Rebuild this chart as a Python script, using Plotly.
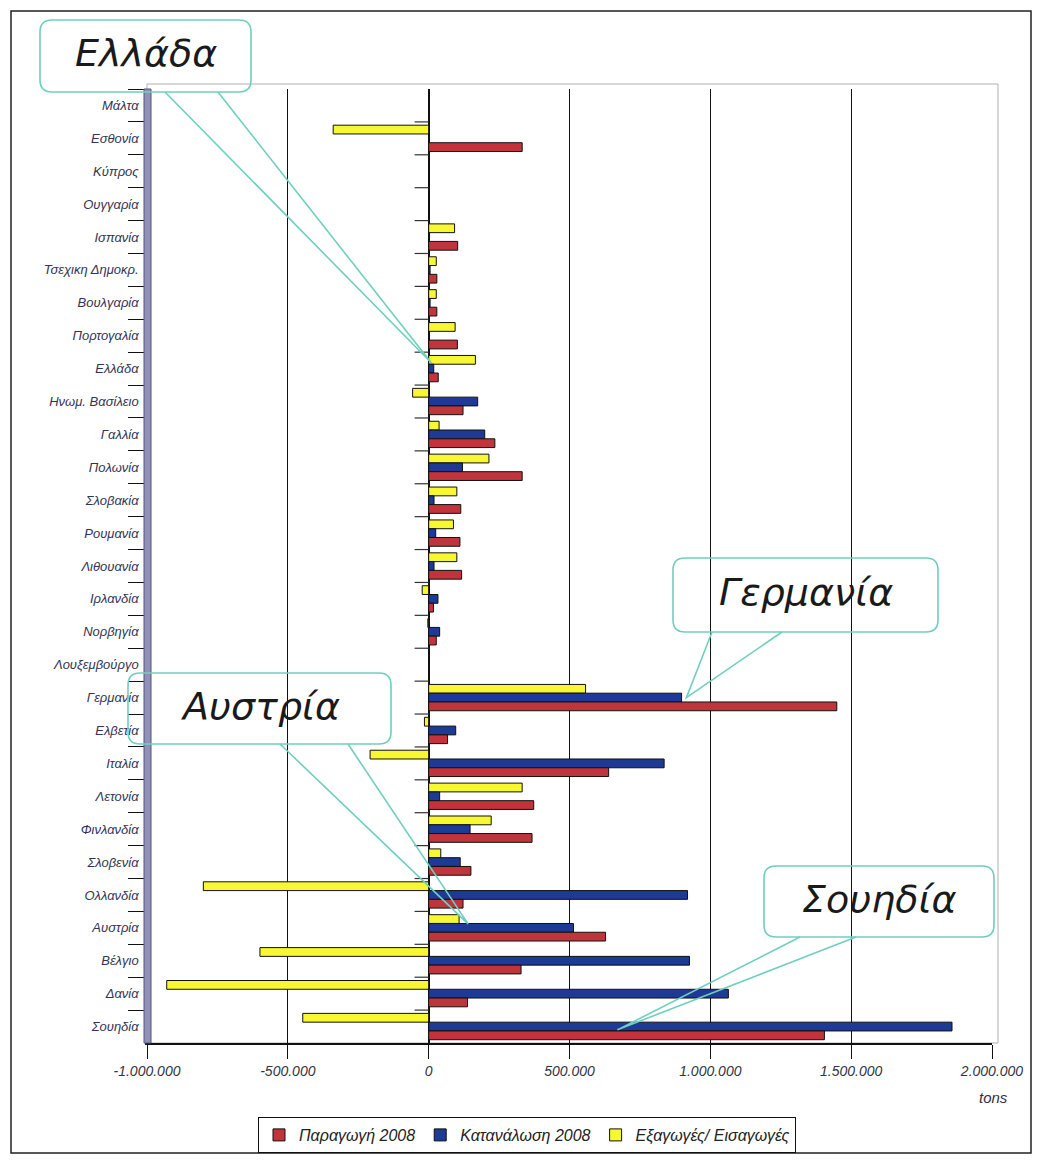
import plotly.graph_objects as go

# ---------------- data (top-to-bottom order as in the chart) ----------------
countries = ["Μάλτα", "Εσθονία", "Κύπρος", "Ουγγαρία", "Ισπανία", "Τσεχικη Δημοκρ.",
             "Βουλγαρία", "Πορτογαλία", "Ελλάδα", "Ηνωμ. Βασίλειο", "Γαλλία", "Πολωνία",
             "Σλοβακία", "Ρουμανία", "Λιθουανία", "Ιρλανδία", "Νορβηγία", "Λουξεμβούργο",
             "Γερμανία", "Ελβετία", "Ιταλία", "Λετονία", "Φινλανδία", "Σλοβενία",
             "Ολλανδία", "Αυστρία", "Βέλγιο", "Δανία", "Σουηδία"]

production = [0, 332000, 0, 0, 103000, 29000, 29000, 102000, 34000, 122000, 235000, 332000,
              114000, 111000, 117000, 17000, 27000, 3000, 1449000, 67000, 639000, 373000,
              367000, 150000, 122000, 628000, 328000, 138000, 1405000]
consumption = [0, 0, 0, 0, 0, 5000, 5000, 0, 18000, 174000, 199000, 120000, 19000, 25000,
               19000, 33000, 39000, 3000, 898000, 96000, 836000, 39000, 147000, 112000,
               919000, 514000, 926000, 1064000, 1858000]
trade = [0, -339000, 0, 0, 92000, 27000, 27000, 94000, 166000, -57000, 37000, 214000, 100000,
         88000, 100000, -23000, -3000, 0, 557000, -15000, -208000, 332000, 222000, 43000,
         -800000, 108000, -599000, -930000, -447000]

series_names = ["Παραγωγή 2008", "Κατανάλωση 2008", "Εξαγωγές/ Εισαγωγές"]
x_tickvals = [-1000000, -500000, 0, 500000, 1000000, 1500000, 2000000]
x_ticktext = ["-1.000.000", "-500.000", "0", "500.000", "1.000.000", "1.500.000", "2.000.000"]

# callouts: label, country it points at, x value at the tip
callouts = [
    ("Ελλάδα", "Ελλάδα", 10000),
    ("Γερμανία", "Γερμανία", 915000),
    ("Αυστρία", "Αυστρία", 140000),
    ("Σουηδία", "Σουηδία", 670000),
]

# ---------------- layout geometry (page pixels) ----------------
PAGE_W, PAGE_H = 1042, 1164
OFF = 8                       # body margin of the html page
W, H = PAGE_W - 2 * OFF, PAGE_H - 2 * OFF
L, R, T, B = 147, 992, 89, 1043
XMIN, XMAX = -1000000, 2000000
N = len(countries)

def pp(x, y):
    """page pixel -> paper"""
    return (x - L) / (R - L), (B - y) / (B - T)

def dp(val, cat, off=0.0):
    """data (value, category) -> page pixel"""
    i = countries.index(cat)
    px = L + (val - XMIN) / (XMAX - XMIN) * (R - L)
    py = T + (i + 0.5 - off) * (B - T) / N
    return px, py

def rrect_path(x0, y0, x1, y1, r):
    def P(x, y):
        a, b = pp(x, y)
        return f"{a:.5f},{b:.5f}"
    s = f"M {P(x0 + r, y0)} L {P(x1 - r, y0)} Q {P(x1, y0)} {P(x1, y0 + r)} "
    s += f"L {P(x1, y1 - r)} Q {P(x1, y1)} {P(x1 - r, y1)} "
    s += f"L {P(x0 + r, y1)} Q {P(x0, y1)} {P(x0, y1 - r)} "
    s += f"L {P(x0, y0 + r)} Q {P(x0, y0)} {P(x0 + r, y0)} Z"
    return s

colors = ["#C0343C", "#1C3A96", "#F8F832"]
FONT = "Liberation Sans"

fig = go.Figure()
for name, vals, col in [(series_names[2], trade, colors[2]),
                        (series_names[1], consumption, colors[1]),
                        (series_names[0], production, colors[0])]:
    fig.add_trace(go.Bar(
        y=countries, x=vals, name=name, orientation="h",
        marker=dict(color=col, line=dict(color="#111111", width=1)),
    ))

shapes = []
fx0, fy0 = pp(11, 11)
fx1, fy1 = pp(1031, 1153)
shapes.append(dict(type="rect", xref="paper", yref="paper", x0=fx0, y0=fy1, x1=fx1, y1=fy0,
                   line=dict(color="#222222", width=1.5), layer="below"))
bx0, by0 = pp(147, 84)
bx1, by1 = pp(998, 1043)
shapes.append(dict(type="rect", xref="paper", yref="paper", x0=bx0, y0=by1, x1=bx1, y1=by0,
                   line=dict(color="#B0B0B0", width=1), layer="below"))
wx0, _ = pp(144, 0)
wx1, _ = pp(151, 0)
shapes.append(dict(type="rect", xref="paper", yref="paper", x0=wx0, y0=0, x1=wx1, y1=1,
                   fillcolor="#9090B8", line=dict(color="#55557a", width=1), layer="above"))
# small depth ticks at the zero line (3D chart artefact)
for i in range(N - 1):
    shapes.append(dict(type="line", xref="x", yref="y", x0=-50000, x1=0,
                       y0=i + 0.5, y1=i + 0.5, line=dict(color="#333333", width=1.2)))

boxes = {
    "Ελλάδα": (40, 20, 251, 92, (165, 218)),
    "Γερμανία": (673, 558, 938, 632, (712, 782)),
    "Αυστρία": (128, 673, 391, 744, (280, 348)),
    "Σουηδία": (764, 866, 994, 937, (800, 856)),
}
tip_offsets = {"Ελλάδα": 0.17, "Γερμανία": 0.0, "Αυστρία": 0.12, "Σουηδία": -0.1}
TEAL = "#6FCFBF"
annotations = []
for label, cat, xv in callouts:
    x0, y0, x1, y1, (a1, a2) = boxes[label]
    shapes.append(dict(type="path", xref="paper", yref="paper",
                       path=rrect_path(x0, y0, x1, y1, 12),
                       line=dict(color=TEAL, width=1.6), fillcolor="rgba(0,0,0,0)",
                       layer="above"))
    tx, ty = dp(xv, cat, tip_offsets[label])
    p1 = pp(a1, y1)
    p2 = pp(a2, y1)
    pt = pp(tx, ty)
    path = (f"M {p1[0]:.5f},{p1[1]:.5f} L {pt[0]:.5f},{pt[1]:.5f} "
            f"L {p2[0]:.5f},{p2[1]:.5f}")
    shapes.append(dict(type="path", xref="paper", yref="paper", path=path,
                       line=dict(color=TEAL, width=1.6), layer="above"))
    cx, cy = pp((x0 + x1) / 2, (y0 + y1) / 2 - 3)
    annotations.append(dict(x=cx, y=cy, xref="paper", yref="paper", text=label,
                            showarrow=False, xanchor="center", yanchor="middle",
                            font=dict(family="DejaVu Sans", size=38, color="#1a1a1a",
                                      style="italic")))

tx_, ty_ = pp(993, 1097)
annotations.append(dict(x=tx_, y=ty_, xref="paper", yref="paper", text="tons",
                        showarrow=False, xanchor="center", yanchor="middle",
                        font=dict(family=FONT, size=15, color="#333333", style="italic")))

lgx, lgy = pp(527, 1117)

fig.update_layout(
    width=W, height=H,
    margin=dict(l=L - OFF, r=(OFF + W) - R, t=T - OFF, b=(OFF + H) - B, pad=0,
                autoexpand=False),
    paper_bgcolor="white", plot_bgcolor="white",
    barmode="group", bargap=0.2, bargroupgap=0.0,
    showlegend=True,
    legend=dict(orientation="h", x=lgx, y=lgy, xanchor="center", yanchor="top",
                traceorder="reversed", bordercolor="#111111", borderwidth=1,
                bgcolor="white", itemwidth=30, tracegroupgap=0,
                font=dict(family=FONT, size=16, color="#222222", style="italic")),
    shapes=shapes,
    annotations=annotations,
    xaxis=dict(range=[XMIN, XMAX], tickvals=x_tickvals, ticktext=x_ticktext,
               showgrid=True, gridcolor="#111111", gridwidth=1,
               zeroline=True, zerolinecolor="#111111", zerolinewidth=2,
               showline=True, linecolor="#111111", linewidth=1.5,
               ticks="outside", ticklen=14, tickcolor="#111111",
               tickfont=dict(family=FONT, size=14, color="#333344", style="italic")),
    yaxis=dict(categoryorder="array", categoryarray=countries, autorange="reversed",
               showgrid=False, showline=True, linecolor="#111111", linewidth=1.5,
               ticks="outside", ticklen=17, tickcolor="#111111", tickson="boundaries",
               ticklabelstandoff=4,
               tickfont=dict(family=FONT, size=13, color="#333355", style="italic")),
    font=dict(family=FONT),
)

fig.write_html("out.html")
